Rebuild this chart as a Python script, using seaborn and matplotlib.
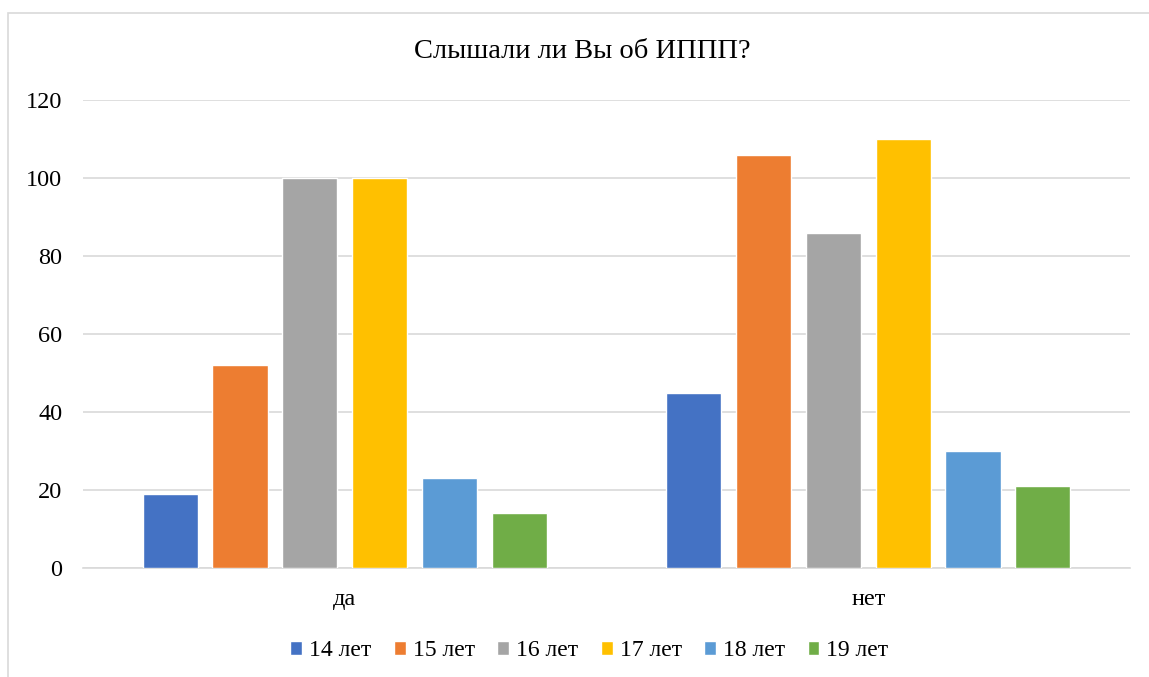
import pandas as pd
import matplotlib.pyplot as plt
import seaborn as sns
from matplotlib.patches import Rectangle

answers = ['да', 'нет']
ages = ['14 лет', '15 лет', '16 лет', '17 лет', '18 лет', '19 лет']
yes_counts = [19, 52, 100, 100, 23, 14]
no_counts = [45, 106, 86, 110, 30, 21]
colors = ['#4472C4', '#ED7D31', '#A5A5A5', '#FFC000', '#5B9BD5', '#70AD47']

rows = []
for age, y, n in zip(ages, yes_counts, no_counts):
    rows.append({'answer': answers[0], 'age': age, 'count': y})
    rows.append({'answer': answers[1], 'age': age, 'count': n})
df = pd.DataFrame(rows)

sns.set_style('white')
plt.rcParams['font.family'] = ['Liberation Serif', 'DejaVu Serif']
plt.rcParams['text.color'] = 'black'

fig = plt.figure(figsize=(11.49, 6.77), dpi=100)
ax = fig.add_axes([83 / 1149, 109 / 677, 1047 / 1149, 468 / 677])

# рамка диаграммы как в Excel
fig.patches.append(Rectangle((8 / 1149, -0.1), 1.2, (677 - 13) / 677 + 0.1,
                             transform=fig.transFigure, fill=False,
                             edgecolor='#d9d9d9', linewidth=1.2, zorder=0))

sns.barplot(data=df, x='answer', y='count', hue='age', order=answers,
            hue_order=ages, palette=colors, width=0.8, gap=0.21,
            saturation=1, errorbar=None, ax=ax, zorder=3)

ax.set_ylim(0, 120)
ax.set_yticks(range(0, 121, 20))
ax.set_xlim(-0.5, 1.5)
ax.grid(axis='y', color='#d9d9d9', linewidth=1.2, zorder=0)
ax.set_axisbelow(True)
for side in ['top', 'right', 'left']:
    ax.spines[side].set_visible(False)
ax.spines['bottom'].set_color('#d9d9d9')
ax.spines['bottom'].set_linewidth(1.2)
ax.tick_params(axis='both', length=0, labelsize=17.5, colors='black')
ax.tick_params(axis='y', pad=15)
ax.tick_params(axis='x', pad=15)
ax.set_xlabel('')
ax.set_ylabel('')

fig.text(0.507, 1 - 52 / 677, 'Слышали ли Вы об ИППП?', ha='center',
         va='center', fontsize=20.5, color='black')

handles, labels = ax.get_legend_handles_labels()
ax.legend(handles, labels, loc='center', bbox_to_anchor=(0.513, 1 - 651 / 677),
          bbox_transform=fig.transFigure, ncol=6, frameon=False, fontsize=17,
          handlelength=0.5, handleheight=0.5, handletextpad=0.3,
          columnspacing=0.95)

fig.savefig('out.png', dpi=100)
